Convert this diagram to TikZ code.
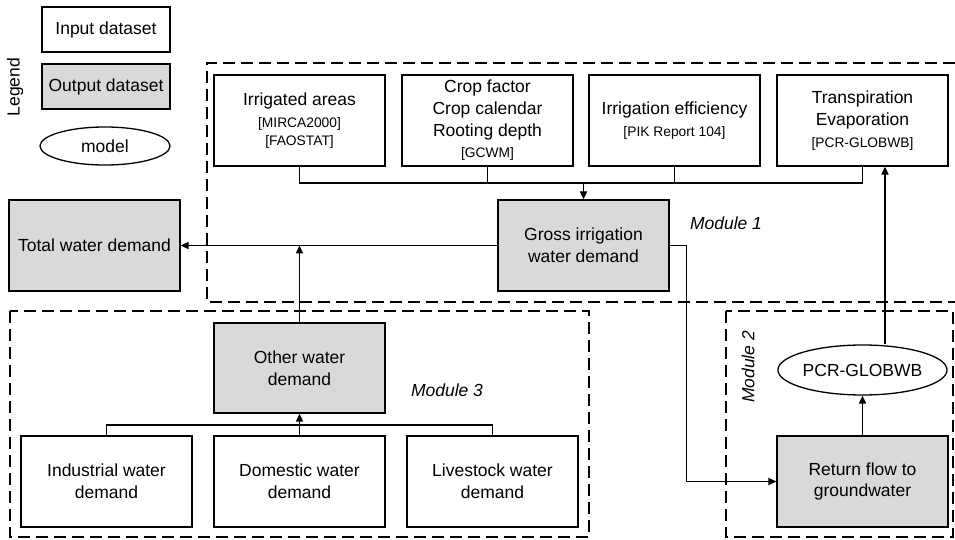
\documentclass[tikz,border=0pt]{standalone}
\usepackage{fontspec}
\setmainfont{Liberation Sans}
\usepackage{tikz}
\usetikzlibrary{shapes.geometric}
\usetikzlibrary{arrows.meta}
\usepackage{xcolor}
\definecolor{outfill}{HTML}{D9D9D9}

\newcommand{\src}[1]{{\fontsize{6.9pt}{8.8pt}\selectfont #1}}

\begin{document}
\begin{tikzpicture}[x=0.5pt, y=-0.5pt,
  font=\fontsize{8.75pt}{10.8pt}\selectfont,
  inbox/.style={draw, line width=0.65pt, align=center, inner sep=1pt,
    minimum width=85.5pt, minimum height=45.5pt},
  outbox/.style={inbox, fill=outfill},
  modelnode/.style={draw, line width=0.65pt, ellipse, inner sep=0pt},
  modbox/.style={line width=0.6pt, dash pattern=on 6pt off 3pt},
  modlabel/.style={font=\fontsize{8.75pt}{10.8pt}\selectfont\itshape},
  arr/.style={-{Triangle[length=4pt,width=3.6pt]}, line width=0.65pt}]

\useasboundingbox (0,0) rectangle (955,540);

\draw[modbox] (955,63) -- (207,63) -- (207,302) -- (955,302);
\draw[modbox] (726,311) rectangle (953,537);
\draw[modbox] (10,311) rectangle (589,537);

\node[inbox, minimum width=64pt, minimum height=22.5pt] (input) at (106,29.5) {Input dataset};
\node[outbox, minimum width=64pt, minimum height=22.5pt] (output) at (106,86.5) {Output dataset};
\node[modelnode, minimum width=65pt, minimum height=19pt] (model) at (105,146) {model};
\node[rotate=90] (legend) at (15,87) {Legend};

\node[inbox] (irr) at (299.5,120.5) {Irrigated areas\\ \src{[MIRCA2000]}\\[-2pt] \src{[FAOSTAT]}};
\node[inbox] (crop) at (487.5,120.5) {Crop factor\\Crop calendar\\Rooting depth\\ \src{[GCWM]}};
\node[inbox] (eff) at (674.5,120.5) {Irrigation efficiency\\ \src{[PIK Report 104]}};
\node[inbox] (transp) at (862.5,120.5) {Transpiration\\Evaporation\\ \src{[PCR-GLOBWB]}};

\node[outbox] (gross) at (583.5,245.5) {Gross irrigation\\water demand};
\node[outbox] (total) at (94.5,245.5) {Total water demand};

\node[outbox, minimum height=45pt] (other) at (299.5,368) {Other water\\demand};
\node[inbox] (ind) at (106.5,481.5) {Industrial water\\demand};
\node[inbox] (dom) at (299.5,481.5) {Domestic water\\demand};
\node[inbox] (live) at (492.5,481.5) {Livestock water\\demand};

\node[outbox] (ret) at (862.5,481.5) {Return flow to\\groundwater};
\node[modelnode, minimum width=79.5pt, minimum height=25pt] (pcr) at (862.5,370) {PCR-GLOBWB};

\node[modlabel] (m1) at (726,223) {Module 1};
\node[modlabel, rotate=90] (m2) at (748,367) {Module 2};
\node[modlabel] (m3) at (447,390) {Module 3};

\coordinate (bus1) at (0,183);
\coordinate (bus3) at (0,425);
\coordinate (evap) at ([xshift=11.25pt]transp.south);

\draw[line width=0.65pt] (irr.south) |- (bus1 -| transp.south) -- (transp.south);
\draw[line width=0.65pt] (crop.south) -- (crop.south |- bus1);
\draw[line width=0.65pt] (eff.south) -- (eff.south |- bus1);
\draw[arr] (gross.north |- bus1) -- (gross.north);

\draw[arr] (gross.west) -- (total.east);
\draw[arr] (other.north) -- (other.north |- gross.west);

\draw[line width=0.65pt] (ind.north) |- (bus3 -| live.north) -- (live.north);
\draw[arr] (dom.north) -- (other.south);

\draw[arr] (gross.east) -- ++(17,0) |- (ret.west);
\draw[arr] (ret.north) -- (pcr.south);
\draw[arr] (pcr.north -| evap) -- (evap);

\end{tikzpicture}
\end{document}
